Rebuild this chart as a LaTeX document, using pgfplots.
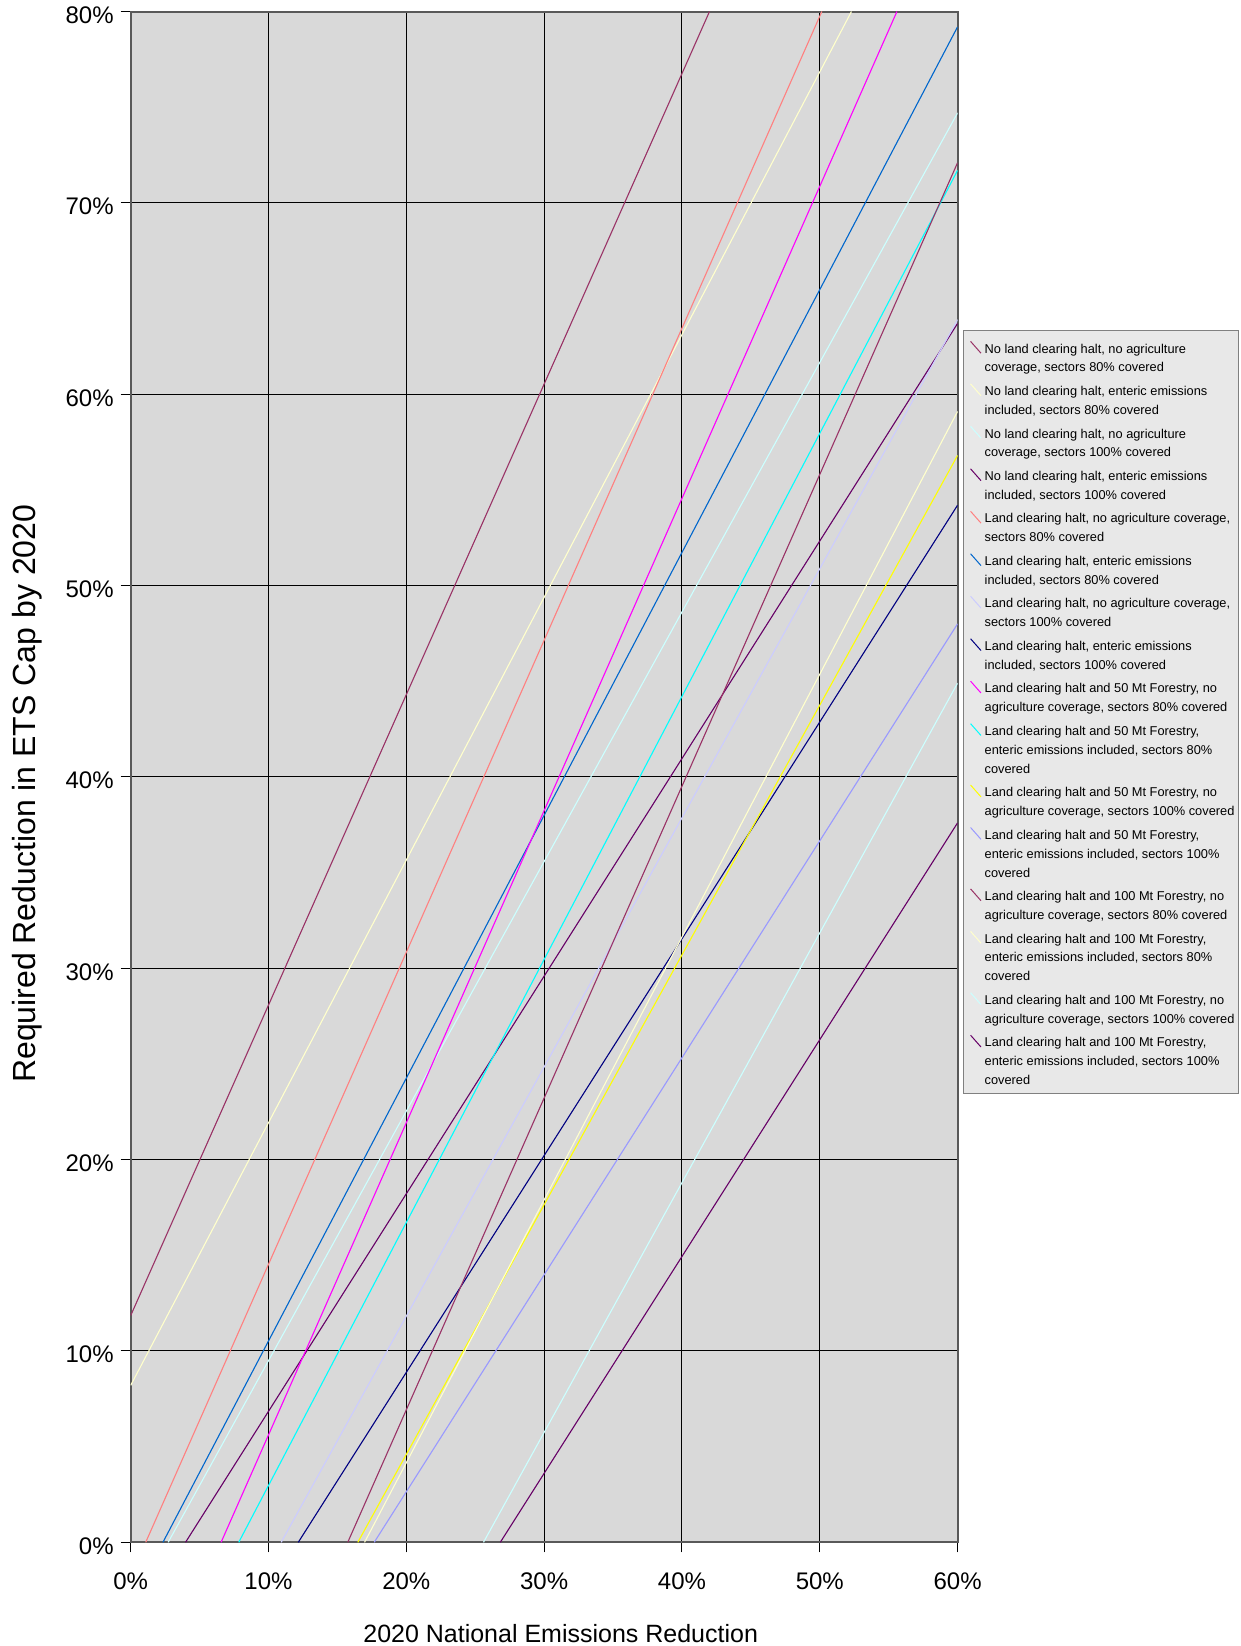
\documentclass[border=0pt]{standalone}
\usepackage{fontspec}
\setmainfont{Liberation Sans}
\usepackage{pgfplots}
\pgfplotsset{compat=1.18}
\definecolor{cA}{HTML}{993366}
\definecolor{cB}{HTML}{FFFFCC}
\definecolor{cC}{HTML}{CCFFFF}
\definecolor{cD}{HTML}{660066}
\definecolor{cE}{HTML}{FF8080}
\definecolor{cF}{HTML}{0066CC}
\definecolor{cG}{HTML}{CCCCFF}
\definecolor{cH}{HTML}{000080}
\definecolor{cI}{HTML}{FF00FF}
\definecolor{cJ}{HTML}{00FFFF}
\definecolor{cK}{HTML}{FFFF00}
\definecolor{cL}{HTML}{9999FF}
\definecolor{plotbg}{HTML}{D9D9D9}
\definecolor{legbg}{HTML}{E8E8E8}
\begin{document}
\begin{tikzpicture}
\useasboundingbox (-65.35pt,-51.85pt) rectangle (555.15pt,771.15pt);
\begin{axis}[
  scale only axis, width=413.45pt, height=765.4pt,
  xmin=0, xmax=60, ymin=0, ymax=80,
  xtick={0,10,...,60}, ytick={0,10,...,80},
  minor tick num=0,
  /pgf/number format/assume math mode=true,
  xticklabel={\pgfmathprintnumber{\tick}\%},
  yticklabel={\pgfmathprintnumber{\tick}\%},
  tick label style={font=\fontsize{12}{14}\selectfont},
  xticklabel style={yshift=-6.8pt},
  yticklabel style={yshift=-1.8pt},
  grid=major, major grid style={black, line width=0.5pt},
  axis background/.style={fill=plotbg},
  axis line style={draw=black!65, line width=1pt},
  tick style={black, line width=0.5pt},
  tick align=outside, major tick length=5pt,
  xtick pos=bottom, ytick pos=left,
  clip=true,
  xlabel={2020 National Emissions Reduction},
  ylabel={Required Reduction in ETS Cap by 2020},
  xlabel style={font=\fontsize{12.5}{14}\selectfont, at={(axis description cs:0.52,-0.0594)}, anchor=center},
  ylabel style={font=\fontsize{16}{18}\selectfont, at={(axis description cs:-0.1254,0.489)}, anchor=center},
  legend style={at={(1.00629,0.7922)}, anchor=north west, draw=black!50, fill=legbg,
    font=\fontsize{6.4}{9.45}\selectfont, inner xsep=1pt, inner ysep=1.5pt,
    row sep=-0.95pt, column sep=0.4pt,
    nodes={inner xsep=1.2pt, inner ysep=1.2pt},
    cells={anchor=north west, align=left}},
  legend image code/.code={\path[draw=none] (0pt,4pt) -- (0pt,0pt);\draw[#1, line width=0.5pt] (2.7pt,-0.2pt) -- (7.9pt,-6.1pt);},
  every axis plot/.append style={line width=0.55pt},
]
\addplot[cA] coordinates {(0,11.85) (42.0,80)};
\addlegendentry{No land clearing halt, no agriculture\\coverage, sectors 80\% covered}
\addplot[cB] coordinates {(0,8.2) (52.3,80)};
\addlegendentry{No land clearing halt, enteric emissions\\included, sectors 80\% covered}
\addplot[cC] coordinates {(2.72,0) (60,74.7)};
\addlegendentry{No land clearing halt, no agriculture\\coverage, sectors 100\% covered}
\addplot[cD] coordinates {(3.98,0) (60,63.7)};
\addlegendentry{No land clearing halt, enteric emissions\\included, sectors 100\% covered}
\addplot[cE] coordinates {(1.09,0) (50.15,80)};
\addlegendentry{Land clearing halt, no agriculture coverage,\\sectors 80\% covered}
\addplot[cF] coordinates {(2.34,0) (60,79.2)};
\addlegendentry{Land clearing halt, enteric emissions\\included, sectors 80\% covered}
\addplot[cG] coordinates {(10.92,0) (60,63.9)};
\addlegendentry{Land clearing halt, no agriculture coverage,\\sectors 100\% covered}
\addplot[cH] coordinates {(12.16,0) (60,54.2)};
\addlegendentry{Land clearing halt, enteric emissions\\included, sectors 100\% covered}
\addplot[cI] coordinates {(6.56,0) (55.6,80)};
\addlegendentry{Land clearing halt and 50 Mt Forestry, no\\agriculture coverage, sectors 80\% covered}
\addplot[cJ] coordinates {(7.84,0) (60,71.7)};
\addlegendentry{Land clearing halt and 50 Mt Forestry,\\enteric emissions included, sectors 80\%\\covered}
\addplot[cK] coordinates {(16.48,0) (60,56.8)};
\addlegendentry{Land clearing halt and 50 Mt Forestry, no\\agriculture coverage, sectors 100\% covered}
\addplot[cL] coordinates {(17.67,0) (60,48.0)};
\addlegendentry{Land clearing halt and 50 Mt Forestry,\\enteric emissions included, sectors 100\%\\covered}
\addplot[cA] coordinates {(15.75,0) (60,72.1)};
\addlegendentry{Land clearing halt and 100 Mt Forestry, no\\agriculture coverage, sectors 80\% covered}
\addplot[cB] coordinates {(16.97,0) (60,59.1)};
\addlegendentry{Land clearing halt and 100 Mt Forestry,\\enteric emissions included, sectors 80\%\\covered}
\addplot[cC] coordinates {(25.6,0) (60,44.9)};
\addlegendentry{Land clearing halt and 100 Mt Forestry, no\\agriculture coverage, sectors 100\% covered}
\addplot[cD] coordinates {(26.82,0) (60,37.6)};
\addlegendentry{Land clearing halt and 100 Mt Forestry,\\enteric emissions included, sectors 100\%\\covered}
\end{axis}
\end{tikzpicture}
\end{document}
